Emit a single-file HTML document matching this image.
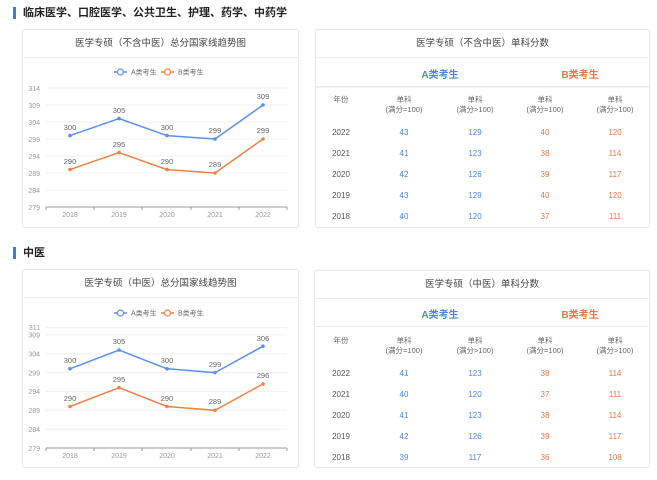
<!DOCTYPE html>
<html><head><meta charset="utf-8">
<style>
*{margin:0;padding:0;box-sizing:border-box}
body{width:657px;height:480px;background:#fff;position:relative;overflow:hidden;font-family:"Liberation Sans","Noto Sans CJK SC",sans-serif;color:#333}
.sec{position:absolute;left:13px;font-size:11px;font-weight:bold;color:#222;padding-left:10px;line-height:12px}
.sec:before{content:"";position:absolute;left:0;top:0;width:3px;height:12px;background:#3b7ddd}
.card{position:absolute;border:1px solid #eaeaea;border-radius:3px;background:#fff;box-shadow:0 0 2px rgba(0,0,0,.05)}
.ttl{position:absolute;left:0;right:0;top:0;height:28px;border-bottom:1px solid #ececec;text-align:center;font-size:9.5px;line-height:28px;color:#444}
.t{position:absolute;font-size:8px;text-align:center;width:70px;margin-left:-35px;color:#555}
.a{color:#4a86e8}.b{color:#ea7448}
.h{font-size:7.5px;line-height:10px;color:#666}
.ab{position:absolute;font-size:10px;font-weight:bold;width:80px;margin-left:-40px;text-align:center}
svg text{font-family:"Liberation Sans","Noto Sans CJK SC",sans-serif}
</style></head><body>

<div class="sec" style="top:7px">临床医学、口腔医学、公共卫生、护理、药学、中药学</div>
<div class="sec" style="top:247px">中医</div>

<!-- chart 1 -->
<div class="card" style="left:22px;top:29px;width:277px;height:199px"><div class="ttl">医学专硕（不含中医）总分国家线趋势图</div></div>
<div class="card" style="left:22px;top:269px;width:277px;height:199px"><div class="ttl">医学专硕（中医）总分国家线趋势图</div></div>

<svg style="position:absolute;left:0;top:0" width="657" height="480">
<g font-size="7" fill="#999" text-anchor="end">
<!-- legend 1 -->
</g>
<g id="c1">
 <g stroke="#f0f0f0" stroke-width="1">
  <line x1="46" x2="287" y1="88" y2="88"/><line x1="46" x2="287" y1="105" y2="105"/><line x1="46" x2="287" y1="122" y2="122"/><line x1="46" x2="287" y1="139" y2="139"/><line x1="46" x2="287" y1="156" y2="156"/><line x1="46" x2="287" y1="173" y2="173"/><line x1="46" x2="287" y1="190" y2="190"/>
 </g>
 <line x1="46" x2="287" y1="207" y2="207" stroke="#999"/>
 <g stroke="#999"><line x1="46" x2="46" y1="207" y2="210"/><line x1="94" x2="94" y1="207" y2="210"/><line x1="142" x2="142" y1="207" y2="210"/><line x1="191" x2="191" y1="207" y2="210"/><line x1="239" x2="239" y1="207" y2="210"/><line x1="287" x2="287" y1="207" y2="210"/></g>
 <g font-size="7" fill="#999" text-anchor="end">
  <text x="40" y="91">314</text><text x="40" y="108">309</text><text x="40" y="125">304</text><text x="40" y="142">299</text><text x="40" y="159">294</text><text x="40" y="176">289</text><text x="40" y="193">284</text><text x="40" y="210">279</text>
 </g>
 <g font-size="7" fill="#999" text-anchor="middle">
  <text x="70" y="217">2018</text><text x="119" y="217">2019</text><text x="167" y="217">2020</text><text x="215" y="217">2021</text><text x="263" y="217">2022</text>
 </g>
 <polyline fill="none" stroke="#5b8ff0" stroke-width="1.5" points="70,135.6 119,118.6 167,135.6 215,139 263,105"/>
 <polyline fill="none" stroke="#ee8246" stroke-width="1.5" points="70,169.6 119,152.6 167,169.6 215,173 263,139"/>
 <g fill="#5b8ff0"><circle cx="70" cy="135.6" r="1.8"/><circle cx="119" cy="118.6" r="1.8"/><circle cx="167" cy="135.6" r="1.8"/><circle cx="215" cy="139" r="1.8"/><circle cx="263" cy="105" r="1.8"/></g>
 <g fill="#ee8246"><circle cx="70" cy="169.6" r="1.8"/><circle cx="119" cy="152.6" r="1.8"/><circle cx="167" cy="169.6" r="1.8"/><circle cx="215" cy="173" r="1.8"/><circle cx="263" cy="139" r="1.8"/></g>
 <g font-size="7.5" fill="#666" text-anchor="middle">
  <text x="70" y="130">300</text><text x="119" y="113">305</text><text x="167" y="130">300</text><text x="215" y="133">299</text><text x="263" y="99">309</text>
  <text x="70" y="164">290</text><text x="119" y="147">295</text><text x="167" y="164">290</text><text x="215" y="167">289</text><text x="263" y="133">299</text>
 </g>
 <!-- legend -->
 <line x1="114" x2="127" y1="72" y2="72" stroke="#5b8ff0" stroke-width="1.5"/><circle cx="120.5" cy="72" r="3" fill="#fff" stroke="#5b8ff0" stroke-width="1.2"/>
 <text x="131" y="74.5" font-size="7" fill="#666">A类考生</text>
 <line x1="161" x2="174" y1="72" y2="72" stroke="#ee8246" stroke-width="1.5"/><circle cx="167.5" cy="72" r="3" fill="#fff" stroke="#ee8246" stroke-width="1.2"/>
 <text x="178" y="74.5" font-size="7" fill="#666">B类考生</text>
</g>

<g id="c2">
 <g stroke="#f0f0f0" stroke-width="1">
  <line x1="46" x2="287" y1="327.4" y2="327.4"/><line x1="46" x2="287" y1="334.9" y2="334.9"/><line x1="46" x2="287" y1="353.8" y2="353.8"/><line x1="46" x2="287" y1="372.6" y2="372.6"/><line x1="46" x2="287" y1="391.5" y2="391.5"/><line x1="46" x2="287" y1="410.3" y2="410.3"/><line x1="46" x2="287" y1="429.2" y2="429.2"/>
 </g>
 <line x1="46" x2="287" y1="448" y2="448" stroke="#999"/>
 <g stroke="#999"><line x1="46" x2="46" y1="448" y2="451"/><line x1="94" x2="94" y1="448" y2="451"/><line x1="142" x2="142" y1="448" y2="451"/><line x1="191" x2="191" y1="448" y2="451"/><line x1="239" x2="239" y1="448" y2="451"/><line x1="287" x2="287" y1="448" y2="451"/></g>
 <g font-size="7" fill="#999" text-anchor="end">
  <text x="40" y="330">311</text><text x="40" y="337.5">309</text><text x="40" y="356.5">304</text><text x="40" y="375.5">299</text><text x="40" y="394">294</text><text x="40" y="413">289</text><text x="40" y="432">284</text><text x="40" y="451">279</text>
 </g>
 <g font-size="7" fill="#999" text-anchor="middle">
  <text x="70" y="458">2018</text><text x="119" y="458">2019</text><text x="167" y="458">2020</text><text x="215" y="458">2021</text><text x="263" y="458">2022</text>
 </g>
 <polyline fill="none" stroke="#5b8ff0" stroke-width="1.5" points="70,368.8 119,350 167,368.8 215,372.6 263,346.2"/>
 <polyline fill="none" stroke="#ee8246" stroke-width="1.5" points="70,406.5 119,387.7 167,406.5 215,410.3 263,383.9"/>
 <g fill="#5b8ff0"><circle cx="70" cy="368.8" r="1.8"/><circle cx="119" cy="350" r="1.8"/><circle cx="167" cy="368.8" r="1.8"/><circle cx="215" cy="372.6" r="1.8"/><circle cx="263" cy="346.2" r="1.8"/></g>
 <g fill="#ee8246"><circle cx="70" cy="406.5" r="1.8"/><circle cx="119" cy="387.7" r="1.8"/><circle cx="167" cy="406.5" r="1.8"/><circle cx="215" cy="410.3" r="1.8"/><circle cx="263" cy="383.9" r="1.8"/></g>
 <g font-size="7.5" fill="#666" text-anchor="middle">
  <text x="70" y="363">300</text><text x="119" y="344">305</text><text x="167" y="363">300</text><text x="215" y="367">299</text><text x="263" y="341">306</text>
  <text x="70" y="401">290</text><text x="119" y="382">295</text><text x="167" y="401">290</text><text x="215" y="404">289</text><text x="263" y="378">296</text>
 </g>
 <line x1="114" x2="127" y1="313" y2="313" stroke="#5b8ff0" stroke-width="1.5"/><circle cx="120.5" cy="313" r="3" fill="#fff" stroke="#5b8ff0" stroke-width="1.2"/>
 <text x="131" y="315.5" font-size="7" fill="#666">A类考生</text>
 <line x1="161" x2="174" y1="313" y2="313" stroke="#ee8246" stroke-width="1.5"/><circle cx="167.5" cy="313" r="3" fill="#fff" stroke="#ee8246" stroke-width="1.2"/>
 <text x="178" y="315.5" font-size="7" fill="#666">B类考生</text>
</g>
</svg>

<!-- table 1 -->
<div class="card" style="left:315px;top:29px;width:335px;height:199px">
 <div class="ttl">医学专硕（不含中医）单科分数</div>
 <div style="position:absolute;left:0;right:0;top:57px;border-top:1px solid #f2f2f2"></div>
</div>
<div style="position:absolute;left:316px;top:86px;width:333px;border-top:1px solid #ececec"></div>
<div class="ab a" style="left:440px;top:66px">A类考生</div>
<div class="ab b" style="left:580px;top:66px">B类考生</div>
<div class="t h" style="left:341px;top:95px">年份</div>
<div class="t h" style="left:404px;top:95px">单科<br>(满分=100)</div>
<div class="t h" style="left:475px;top:95px">单科<br>(满分&gt;100)</div>
<div class="t h" style="left:545px;top:95px">单科<br>(满分=100)</div>
<div class="t h" style="left:615px;top:95px">单科<br>(满分&gt;100)</div>

<div class="t" style="left:341px;top:128px">2022</div><div class="t a" style="left:404px;top:128px">43</div><div class="t a" style="left:475px;top:128px">129</div><div class="t b" style="left:545px;top:128px">40</div><div class="t b" style="left:615px;top:128px">120</div>
<div class="t" style="left:341px;top:149px">2021</div><div class="t a" style="left:404px;top:149px">41</div><div class="t a" style="left:475px;top:149px">123</div><div class="t b" style="left:545px;top:149px">38</div><div class="t b" style="left:615px;top:149px">114</div>
<div class="t" style="left:341px;top:170px">2020</div><div class="t a" style="left:404px;top:170px">42</div><div class="t a" style="left:475px;top:170px">126</div><div class="t b" style="left:545px;top:170px">39</div><div class="t b" style="left:615px;top:170px">117</div>
<div class="t" style="left:341px;top:191px">2019</div><div class="t a" style="left:404px;top:191px">43</div><div class="t a" style="left:475px;top:191px">129</div><div class="t b" style="left:545px;top:191px">40</div><div class="t b" style="left:615px;top:191px">120</div>
<div class="t" style="left:341px;top:212px">2018</div><div class="t a" style="left:404px;top:212px">40</div><div class="t a" style="left:475px;top:212px">120</div><div class="t b" style="left:545px;top:212px">37</div><div class="t b" style="left:615px;top:212px">111</div>

<!-- table 2 -->
<div class="card" style="left:314px;top:270px;width:336px;height:198px">
 <div class="ttl">医学专硕（中医）单科分数</div>
</div>
<div style="position:absolute;left:315px;top:326px;width:334px;border-top:1px solid #ececec"></div>
<div class="ab a" style="left:440px;top:306px">A类考生</div>
<div class="ab b" style="left:580px;top:306px">B类考生</div>
<div class="t h" style="left:341px;top:336px">年份</div>
<div class="t h" style="left:404px;top:336px">单科<br>(满分=100)</div>
<div class="t h" style="left:475px;top:336px">单科<br>(满分&gt;100)</div>
<div class="t h" style="left:545px;top:336px">单科<br>(满分=100)</div>
<div class="t h" style="left:615px;top:336px">单科<br>(满分&gt;100)</div>

<div class="t" style="left:341px;top:369px">2022</div><div class="t a" style="left:404px;top:369px">41</div><div class="t a" style="left:475px;top:369px">123</div><div class="t b" style="left:545px;top:369px">38</div><div class="t b" style="left:615px;top:369px">114</div>
<div class="t" style="left:341px;top:390px">2021</div><div class="t a" style="left:404px;top:390px">40</div><div class="t a" style="left:475px;top:390px">120</div><div class="t b" style="left:545px;top:390px">37</div><div class="t b" style="left:615px;top:390px">111</div>
<div class="t" style="left:341px;top:411px">2020</div><div class="t a" style="left:404px;top:411px">41</div><div class="t a" style="left:475px;top:411px">123</div><div class="t b" style="left:545px;top:411px">38</div><div class="t b" style="left:615px;top:411px">114</div>
<div class="t" style="left:341px;top:432px">2019</div><div class="t a" style="left:404px;top:432px">42</div><div class="t a" style="left:475px;top:432px">126</div><div class="t b" style="left:545px;top:432px">39</div><div class="t b" style="left:615px;top:432px">117</div>
<div class="t" style="left:341px;top:453px">2018</div><div class="t a" style="left:404px;top:453px">39</div><div class="t a" style="left:475px;top:453px">117</div><div class="t b" style="left:545px;top:453px">36</div><div class="t b" style="left:615px;top:453px">108</div>

</body></html>
